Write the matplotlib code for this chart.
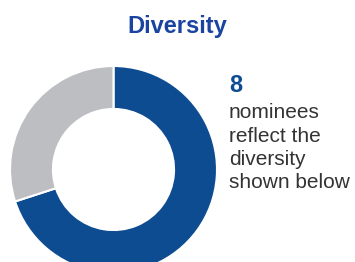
import matplotlib
matplotlib.use("Agg")
import matplotlib.pyplot as plt

# donut shares (blue = diverse nominees share, grey = rest)
labels = ["Diverse", "Other"]
shares = [70, 30]
colors = ["#0E4C92", "#BDBEC1"]

title = "Diversity"
count = "8"
lines = ["nominees", "reflect the", "diversity", "shown below"]

plt.rcParams['font.family'] = ['Liberation Sans', 'DejaVu Sans']

W, H = 355, 262
fig = plt.figure(figsize=(W / 100, H / 100), dpi=100)

# donut axes: center (113.5, 169.5) px, radius 103.5 px
r = 103.5
cx, cy = 113.5, 169.5
ax = fig.add_axes([(cx - r) / W, (H - cy - r) / H, 2 * r / W, 2 * r / H])
ax.pie(shares, colors=colors, startangle=90, counterclock=False, radius=1,
       wedgeprops=dict(width=0.415, edgecolor="white", linewidth=1.5))
ax.set_xlim(-1, 1)
ax.set_ylim(-1, 1)
ax.set_aspect("equal")
ax.axis("off")

fig.text(177 / W, 1 - 26.5 / H, title, ha="center", va="center",
         fontsize=17, fontweight="bold", color="#1A44A0")

fig.text(229 / W, 1 - 92 / H, count, ha="left", va="baseline",
         fontsize=17, fontweight="bold", color="#0E4C92")

base = 118.3
for i, line in enumerate(lines):
    fig.text(229 / W, 1 - (base + i * 23.4) / H, line, ha="left",
             va="baseline", fontsize=15, color="#333333")

fig.savefig("out.png", dpi=100)
